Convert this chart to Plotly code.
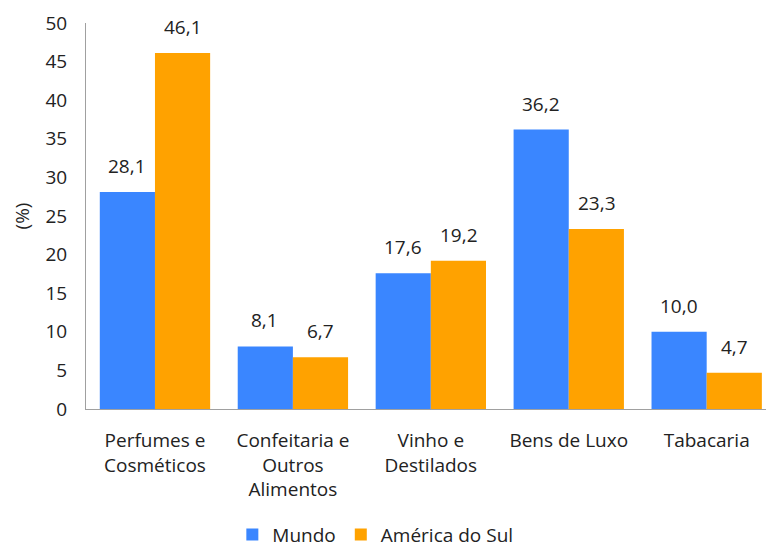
import plotly.graph_objects as go

categories = ["Perfumes e<br>Cosméticos", "Confeitaria e<br>Outros<br>Alimentos",
              "Vinho e<br>Destilados", "Bens de Luxo", "Tabacaria"]
mundo = [28.1, 8.1, 17.6, 36.2, 10.0]
america_sul = [46.1, 6.7, 19.2, 23.3, 4.7]
y_ticks = [0, 5, 10, 15, 20, 25, 30, 35, 40, 45, 50]

FONT = "Open Sans, Noto Sans, sans-serif"
BLUE = "#3A86FF"
ORANGE = "#FFA200"
TXT = "#222222"
FS = 19

def fmt(v):
    return f"{v:.1f}".replace(".", ",")

fig = go.Figure()
fig.add_trace(go.Bar(x=categories, y=mundo, name="Mundo", marker=dict(color=BLUE, line=dict(width=0))))
fig.add_trace(go.Bar(x=categories, y=america_sul, name="América do Sul",
                     marker=dict(color=ORANGE, line=dict(width=0))))

annotations = []
for c, v in zip(categories, mundo):
    annotations.append(dict(x=c, y=v, text=fmt(v), xshift=-28, yshift=26, showarrow=False,
                            xref="x", yref="y", font=dict(size=FS, color=TXT, family=FONT)))
for c, v in zip(categories, america_sul):
    annotations.append(dict(x=c, y=v, text=fmt(v), xshift=28, yshift=26, showarrow=False,
                            xref="x", yref="y", font=dict(size=FS, color=TXT, family=FONT)))

fig.update_layout(
    width=766, height=550,
    margin=dict(l=86, r=0, t=23, b=141, autoexpand=False),
    paper_bgcolor="white", plot_bgcolor="white",
    barmode="group", bargap=0.2, bargroupgap=0,
    font=dict(family=FONT, size=FS, color=TXT),
    showlegend=True,
    legend=dict(orientation="h", xref="container", x=0.49, xanchor="center",
                yref="container", y=0.028, yanchor="middle",
                font=dict(size=FS, color=TXT), itemwidth=30, traceorder="normal"),
    annotations=annotations,
)
fig.update_xaxes(range=[-0.5, 4.43], showline=True, linecolor="#A0A0A0", linewidth=1, automargin=False,
                 ticks="", showgrid=False, tickfont=dict(size=FS, color=TXT), ticklabelstandoff=14)
fig.update_yaxes(range=[0, 50], tickvals=y_ticks, showline=True, linecolor="#A0A0A0", linewidth=1,
                 automargin=False, ticks="", showgrid=False, zeroline=False,
                 tickfont=dict(size=FS, color=TXT), ticklabelstandoff=14,
                 title=dict(text="(%)", font=dict(size=FS, color=TXT), standoff=10))

fig.write_html("out.html")
